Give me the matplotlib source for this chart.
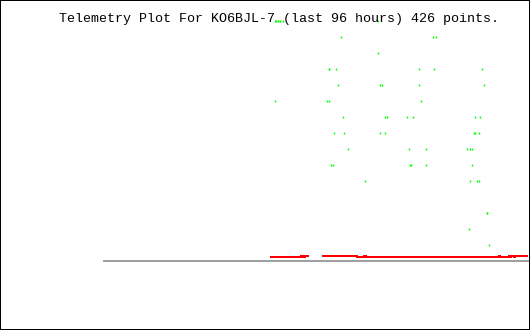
import matplotlib
matplotlib.use('Agg')  # headless
import matplotlib.pyplot as plt
from matplotlib.patches import Rectangle
import numpy as np

# Title info
CALLSIGN = "KO6BJL-7"
HOURS = 96
N_POINTS = 426

# Green telemetry readings (hours into window, level)
green_hours = [38.96, 39.19, 39.42, 39.64, 39.87, 40.77, 62.23,
               53.87, 74.65, 75.11,
               62.23,
               50.94, 51.16, 52.52, 71.27, 74.88, 85.72,
               52.97, 62.68, 62.91, 71.49, 85.95,
               38.74, 50.71, 50.94, 71.72,
               54.10, 63.81, 64.04, 68.78, 69.92, 84.14, 85.27,
               52.29, 54.55, 62.46, 63.59, 83.69, 83.92, 84.82,
               55.45, 69.01, 72.85, 82.33, 83.01, 83.46,
               51.61, 51.84, 69.24, 69.46, 73.07, 83.24,
               59.07, 82.79, 84.59, 84.82,
               86.63, 86.85,
               82.56,
               87.30]
green_levels = [15] * 7 + [14] * 3 + [13] + [12] * 6 + [11] * 5 + [10] * 4 \
    + [9] * 7 + [8] * 7 + [7] * 6 + [6] * 6 + [5] * 4 + [3] * 2 + [2] + [1]

# Red telemetry trace (change points, steps-post); nan = gap in data
red_hours = [37.72, 44.72, 45.18, 45.63, 46.53,
             49.47, 57.37, 58.96, 59.41, 89.45, 89.68,
             91.71, 91.93, 92.16, 92.84, 93.06, 96.00]
red_values = [0.25, 0.3125, 0.25, 0.3125, np.nan,
              0.3125, 0.25, 0.3125, 0.25, 0.3125, 0.25,
              0.3125, 0.25, 0.3125, 0.25, 0.3125, 0.3125]

W, H, DPI = 530, 330, 100
PX = 72.0 / DPI  # points per pixel

fig = plt.figure(figsize=(W / DPI, H / DPI), dpi=DPI)
ax = fig.add_axes([0, 0, 1, 1])
ax.set_axis_off()

# plot area: 0..96 h spans x=103..528 px, 16 px per level, zero at y=261
k = 425.0 / HOURS
ax.set_xlim(-103 / k, (W - 103) / k)
ax.set_ylim(-(H - 261) / 16.0, 261 / 16.0)

# baseline
ax.hlines(0, 0, (W - 103) / k, color='#a0a0a0', linewidth=2 * PX, antialiased=False)

# red trace
ax.plot(red_hours, red_values, color='#ff0000', linewidth=2 * PX,
        drawstyle='steps-post', antialiased=False, solid_capstyle='butt')

# green points
ax.plot(green_hours, green_levels, linestyle='none', marker='|',
        markersize=2 * PX, markeredgewidth=1.4 * PX, color='#00ff00',
        antialiased=False)

# title
fig.text(59 / W, 1 - 22 / H,
         f"Telemetry Plot For {CALLSIGN} (last {HOURS} hours) {N_POINTS} points.",
         family=['Liberation Mono', 'DejaVu Sans Mono'], fontsize=9.6,
         va='baseline', ha='left', color='black')

# border
fig.patches.append(Rectangle((0, 0), 1, 1, transform=fig.transFigure,
                             fill=False, edgecolor='black', linewidth=2 * PX))

fig.savefig('out.png', dpi=DPI)
plt.close('all')
